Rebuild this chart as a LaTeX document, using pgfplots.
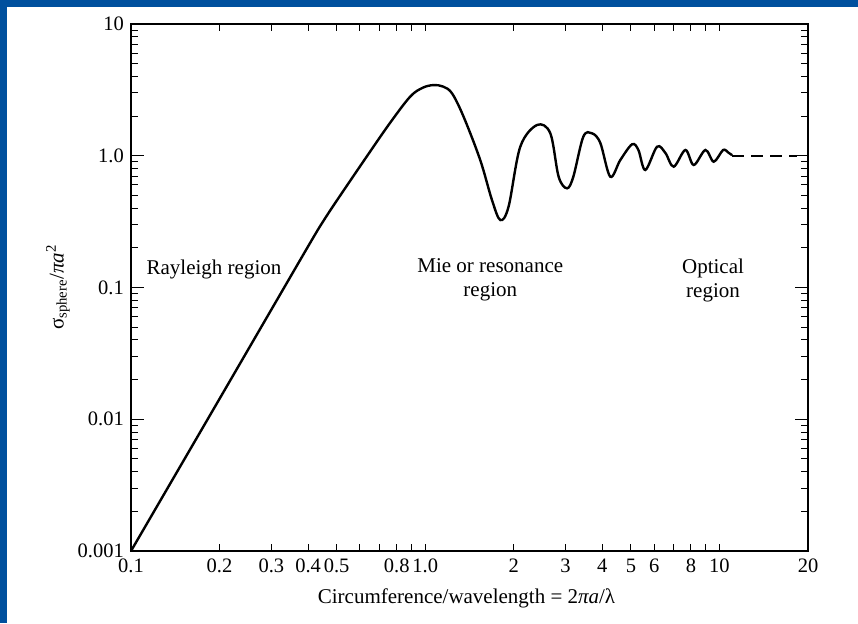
\documentclass[border=0pt]{standalone}
\usepackage{pgfplots}
\pgfplotsset{compat=1.18}
\usepackage{fontspec}
\setmainfont{Liberation Serif}
\definecolor{slideblue}{RGB}{0,80,158}
\begin{document}
\fontsize{21}{24}\selectfont
\begin{tikzpicture}
\fill[slideblue] (-131pt,-72pt) rectangle (727pt,551pt);
\fill[white] (-124pt,-72pt) rectangle (727pt,544pt);
\begin{axis}[
  at={(0pt,0pt)}, anchor=south west,
  scale only axis, width=677pt, height=527pt,
  xmode=log, ymode=log,
  xmin=0.1, xmax=20, ymin=0.001, ymax=10,
  major tick length=13pt, minor tick length=7pt,
  xtick={0.1,0.2,0.3,0.4,0.5,0.8,1,2,3,4,5,6,8,10,20},
  xticklabels={\textrm{0.1},\textrm{0.2},\textrm{0.3},\textrm{0.4},\textrm{0.5},\textrm{0.8},\textrm{1.0},\textrm{2},\textrm{3},\textrm{4},\textrm{5},\textrm{6},\textrm{8},\textrm{10},\textrm{20}},
  minor xtick={0.2,0.3,0.4,0.5,0.6,0.7,0.8,0.9,1,2,3,4,5,6,7,8,9,10},
  major x tick style={draw=none},
  minor x tick style={line width=1pt, black},
  ytick={0.001,0.01,0.1,1,10},
  yticklabels={\textrm{0.001},\textrm{0.01},\textrm{0.1},\textrm{1.0},\textrm{10}},
  minor ytick={0.002,0.003,0.004,0.005,0.006,0.007,0.008,0.009,
               0.02,0.03,0.04,0.05,0.06,0.07,0.08,0.09,
               0.2,0.3,0.4,0.5,0.6,0.7,0.8,0.9,
               2,3,4,5,6,7,8,9},
  ytick style={line width=1pt, black},
  axis line style={line width=1.2pt, black},
  /pgf/number format/assume math mode=true,
  tick label style={font=\fontsize{20.5}{24}\selectfont},
  xticklabel style={inner sep=2pt, yshift=-6pt},
  label style={font=\fontsize{21}{24}\selectfont},
  xlabel={Circumference/wavelength = 2\textit{πa}/λ},
  ylabel={σ\textsubscript{sphere}/\textit{πa}\textsuperscript{2}},
  xlabel style={at={(axis description cs:0.4956,-0.089)}, anchor=center},
  ylabel style={at={(axis description cs:-0.1078,0.5)}, anchor=center},
  clip=false,
]
\addplot[black, line width=2.4pt, smooth, tension=0.55] coordinates {
(0.1,0.001)
(0.2,0.0143)
(0.3,0.068)
(0.4117,0.2293)
(0.45,0.318)
(0.5,0.455)
(0.6334,0.99)
(0.760,1.78)
(0.889,2.81)
(0.98,3.28)
(1.067,3.44)
(1.15,3.35)
(1.233,2.98)
(1.350,1.98)
(1.538,0.928)
(1.686,0.4613)
(1.800,0.325)
(1.920,0.4106)
(2.104,1.171)
(2.399,1.712)
(2.662,1.48)
(2.841,0.693)
(3.033,0.566)
(3.187,0.693)
(3.446,1.395)
(3.690,1.48)
(3.937,1.25)
(4.256,0.693)
(4.603,0.928)
(5.047,1.221)
(5.303,1.106)
(5.598,0.78)
(6.138,1.171)
(6.552,1.049)
(6.992,0.826)
(7.663,1.106)
(8.178,0.851)
(8.961,1.106)
(9.564,0.901)
(10.29,1.106)
(10.73,1.055)
(11.04,1.01)
};
\addplot[black, line width=2.4pt, dash pattern=on 12pt off 7pt] coordinates {
(11.04,1.0) (18.4,1.0)
};
\node[font=\fontsize{21}{24}\selectfont] at (axis cs:0.1915,0.1374) {Rayleigh region};
\node[font=\fontsize{21}{24}\selectfont, align=center] at (axis cs:1.664,0.114) {Mie or resonance\\region};
\node[font=\fontsize{21}{24}\selectfont, align=center] at (axis cs:9.51,0.114) {Optical\\region};
\end{axis}
\pgfresetboundingbox
\path (-131pt,-72pt) rectangle (727pt,551pt);
\end{tikzpicture}
\end{document}
